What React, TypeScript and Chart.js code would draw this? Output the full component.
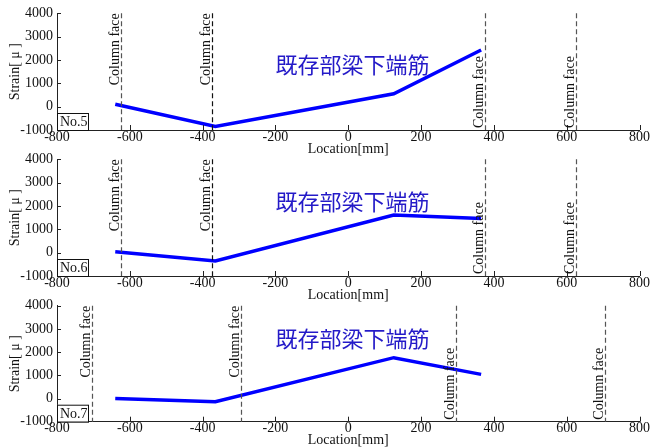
import React, { useEffect, useRef } from "react";
import { Chart, registerables } from "chart.js";

Chart.register(...registerables);

// ---- data ----
const locations = [-640, -365, 125, 365];
const strainNo5 = [100, -850, 550, 2430];
const strainNo6 = [40, -360, 1615, 1460];
const strainNo7 = [0, -140, 1760, 1040];
const facesNo5 = [-625, -375, 375, 625];
const facesNo6 = [-625, -375, 375, 625];
const facesNo7 = [-705, -295, 295, 705];
const specimenLabels = ["No.5", "No.6", "No.7"];
const xMin = -800;
const xMax = 800;
const xStep = 200;
const yMin = -1000;
const yMax = 4000;
const yStep = 1000;
const chartTitle = "既存部梁下端筋";
const faceLabel = "Column face";
const xTitle = "Location[mm]";
const yTitle = "Strain[ μ ]";

const SERIF = "'Liberation Serif', 'Times New Roman', serif";
const CJK = "'Noto Sans CJK JP', 'Noto Sans CJK SC', sans-serif";

type PanelProps = {
  label: string;
  strain: number[];
  faces: number[];
  faceColors: string[];
  top: number;
  bottom: number;
  titleY: number;
};

const W = 650;
const H = 448;
const AXIS_LEFT = 57;
const AXIS_RIGHT = 641;
const X_AXIS_H = 26;

function Panel(props: PanelProps) {
  const ref = useRef<HTMLCanvasElement | null>(null);
  useEffect(() => {
    const canvas = ref.current;
    if (!canvas) return;
    const { label, strain, faces, faceColors, top, bottom, titleY } = props;

    const overlay = {
      id: "overlay" + label,
      afterDraw(chart: any) {
        const ctx = chart.ctx as CanvasRenderingContext2D;
        const xs = chart.scales.x;
        const ys = chart.scales.y;
        const area = chart.chartArea;
        ctx.save();
        // inward tick marks
        ctx.strokeStyle = "#222";
        ctx.lineWidth = 1;
        ctx.beginPath();
        xs.ticks.forEach((t: any) => {
          const px = Math.round(xs.getPixelForValue(t.value)) + 0.5;
          ctx.moveTo(px, area.bottom);
          ctx.lineTo(px, area.bottom - 5);
        });
        ys.ticks.forEach((t: any) => {
          const py = Math.round(ys.getPixelForValue(t.value)) + 0.5;
          ctx.moveTo(area.left, py);
          ctx.lineTo(area.left + 4, py);
        });
        ctx.stroke();

        // column face lines + labels
        faces.forEach((f, i) => {
          const px = Math.round(xs.getPixelForValue(f)) + 0.5;
          ctx.strokeStyle = faceColors[i];
          ctx.lineWidth = 1.2;
          ctx.setLineDash([5, 3]);
          ctx.beginPath();
          ctx.moveTo(px, area.top);
          ctx.lineTo(px, area.bottom);
          ctx.stroke();
          ctx.setLineDash([]);
          ctx.save();
          ctx.translate(px - 3, f < 0 ? area.top : area.bottom - 2);
          ctx.rotate(-Math.PI / 2);
          ctx.fillStyle = "#111";
          ctx.font = "14px " + SERIF;
          ctx.textBaseline = "alphabetic";
          ctx.textAlign = f < 0 ? "right" : "left";
          ctx.fillText(faceLabel, 0, 0);
          ctx.restore();
        });

        // chart title
        ctx.fillStyle = "rgb(36,26,200)";
        ctx.font = "22px " + CJK;
        ctx.textAlign = "center";
        ctx.textBaseline = "middle";
        ctx.fillText(chartTitle, xs.getPixelForValue(12), ys.getPixelForValue(titleY));

        // specimen box
        const bx = area.left + 0.5;
        const bw = 31;
        const bh = 17;
        const by = area.bottom - bh;
        ctx.fillStyle = "#fff";
        ctx.fillRect(bx, by, bw, bh);
        ctx.strokeStyle = "#111";
        ctx.lineWidth = 1;
        ctx.strokeRect(bx, by + 0.5, bw, bh);
        ctx.fillStyle = "#111";
        ctx.font = "14px " + SERIF;
        ctx.textAlign = "left";
        ctx.textBaseline = "middle";
        ctx.fillText(label, bx + 2.5, by + bh / 2 + 1);
        ctx.restore();
      },
    };

    const chart = new Chart(canvas, {
      type: "line",
      data: {
        datasets: [
          {
            data: locations.map((x, i) => ({ x, y: strain[i] })),
            borderColor: "#0000ff",
            borderWidth: 3.5,
            pointRadius: 0,
            fill: false,
            tension: 0,
          },
        ],
      },
      options: {
        responsive: false,
        animation: false,
        devicePixelRatio: 1,
        layout: {
          autoPadding: false,
          padding: {
            left: 0,
            right: W - AXIS_RIGHT,
            top: top,
            bottom: H - bottom - X_AXIS_H,
          },
        },
        plugins: { legend: { display: false }, tooltip: { enabled: false }, title: { display: false } },
        scales: {
          x: {
            type: "linear",
            min: xMin,
            max: xMax,
            afterFit: (s: any) => {
              s.height = X_AXIS_H;
            },
            grid: { display: false, drawTicks: false },
            border: { display: true, color: "#222", width: 1 },
            ticks: {
              stepSize: xStep,
              padding: 0,
              color: "#111",
              font: { family: SERIF, size: 14, lineHeight: 1 },
              maxRotation: 0,
              autoSkip: false,
              callback: (v: any) => String(v),
            },
            title: {
              display: true,
              text: xTitle,
              color: "#111",
              padding: { top: 0, bottom: 0 },
              font: { family: SERIF, size: 14, lineHeight: 1 },
            },
          },
          y: {
            type: "linear",
            min: yMin,
            max: yMax,
            afterFit: (s: any) => {
              s.width = AXIS_LEFT;
            },
            grid: { display: false, drawTicks: false },
            border: { display: true, color: "#222", width: 1 },
            ticks: {
              stepSize: yStep,
              padding: 4,
              color: "#111",
              font: { family: SERIF, size: 14, lineHeight: 1 },
              callback: (v: any) => String(v),
            },
            title: {
              display: true,
              text: yTitle,
              color: "#111",
              padding: { top: 8, bottom: 0 },
              font: { family: SERIF, size: 14, lineHeight: 1 },
            },
          },
        },
      },
      plugins: [overlay],
    } as any);
    return () => chart.destroy();
  }, []);
  return (
    <canvas
      ref={ref}
      width={W}
      height={H}
      style={{ position: "absolute", left: 0, top: 0, width: W, height: H, display: "block" }}
    />
  );
}

export default function App() {
  return (
    <div style={{ position: "fixed", left: 0, top: 0, width: W, height: H, background: "#fff", overflow: "hidden" }}>
      <Panel
        label={specimenLabels[0]}
        strain={strainNo5}
        faces={facesNo5}
        faceColors={["#555", "#111", "#555", "#555"]}
        top={13.3}
        bottom={130}
        titleY={1790}
      />
      <Panel
        label={specimenLabels[1]}
        strain={strainNo6}
        faces={facesNo6}
        faceColors={["#555", "#111", "#555", "#555"]}
        top={159.3}
        bottom={276}
        titleY={2190}
      />
      <Panel
        label={specimenLabels[2]}
        strain={strainNo7}
        faces={facesNo7}
        faceColors={["#555", "#555", "#555", "#555"]}
        top={305.7}
        bottom={421.7}
        titleY={2565}
      />
    </div>
  );
}
